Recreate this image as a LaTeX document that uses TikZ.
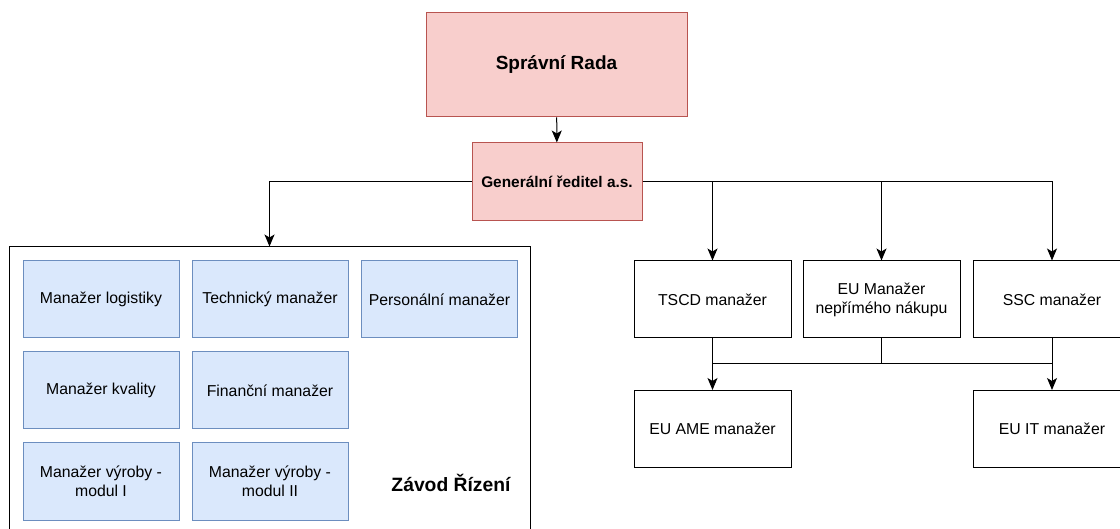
\documentclass[tikz,border=0pt]{standalone}
\usepackage{fontspec}
\setmainfont{Liberation Sans}
\usetikzlibrary{arrows.meta}

\definecolor{redfill}{HTML}{F8CECC}
\definecolor{redline}{HTML}{B85450}
\definecolor{bluefill}{HTML}{DAE8FC}
\definecolor{blueline}{HTML}{6C8EBF}

\begin{document}
\begin{tikzpicture}[x=1pt, y=-1pt, line width=1pt, >={Stealth[length=12pt,width=10pt,inset=3pt]}]

        \useasboundingbox (0,0) rectangle (1120,529);
        \clip (0,0) rectangle (1120,529);

        % vedeni
        \begin{scope}[every node/.style={rectangle, draw=redline, fill=redfill, inner sep=0pt}]
          \node[minimum width=261pt, minimum height=104pt, font=\fontsize{19}{23}\selectfont\bfseries] (rada) at (556.5,65) {Správní Rada};
          \node[minimum width=170pt, minimum height=78pt, font=\fontsize{15.4}{19}\selectfont\bfseries] (gen) at (557,182) {Generální ředitel a.s.};
        \end{scope}

        % zavod
        \node[draw, rectangle, minimum width=521pt, minimum height=306pt, inner sep=0pt] (zavod) at (269.5,400) {};
        \node[font=\fontsize{19.3}{23}\selectfont\bfseries] (zlabel) at (451,483) {Závod Řízení};

        \begin{scope}[every node/.style={rectangle, draw=blueline, fill=bluefill, minimum width=156pt, minimum height=77pt, inner sep=0pt, align=center, font=\fontsize{15.8}{19}\selectfont}]
          \node (m1) at (101,299.5)   {Manažer logistiky};
          \node (m2) at (270,299.5)   {Technický manažer};
          \node (m3) at (439.5,299.5) {Personální manažer};
          \node (m4) at (101,390.5)   {Manažer kvality};
          \node (m5) at (270,390.5)   {Finanční manažer};
          \node (m6) at (101,481.5)   {Manažer výroby -\\modul I};
          \node (m7) at (270,481.5)   {Manažer výroby -\\modul II};
        \end{scope}

        \begin{scope}[every node/.style={rectangle, draw, fill=white, minimum width=157pt, minimum height=77pt, inner sep=0pt, align=center, font=\fontsize{15.8}{19}\selectfont}]
          \node (tscd) at (712.5,299.5) {TSCD manažer};
          \node (eun)  at (881.5,299.5) {EU Manažer\\nepřímého nákupu};
          \node (ssc)  at (1052,299.5)  {SSC manažer};
          \node (ame)  at (712.5,429)   {EU AME manažer};
          \node (euit) at (1052,429)    {EU IT manažer};
        \end{scope}

        \coordinate (busL) at (712.5,364);
        \coordinate (busR) at (1052,364);

        \draw[->] (rada) -- (gen);
        \draw[->] (gen.west) -| (zavod.north);
        \draw[->] (gen.east) -| (tscd.north);
        \draw[->] (gen.east) -| (eun.north);
        \draw[->] (gen.east) -| (ssc.north);
        \draw[->] (tscd) -- (ame);
        \draw[->] (ssc) -- (euit);
        \draw (eun.south) |- (busL);
        \draw (eun.south) |- (busR);

\end{tikzpicture}
\end{document}
